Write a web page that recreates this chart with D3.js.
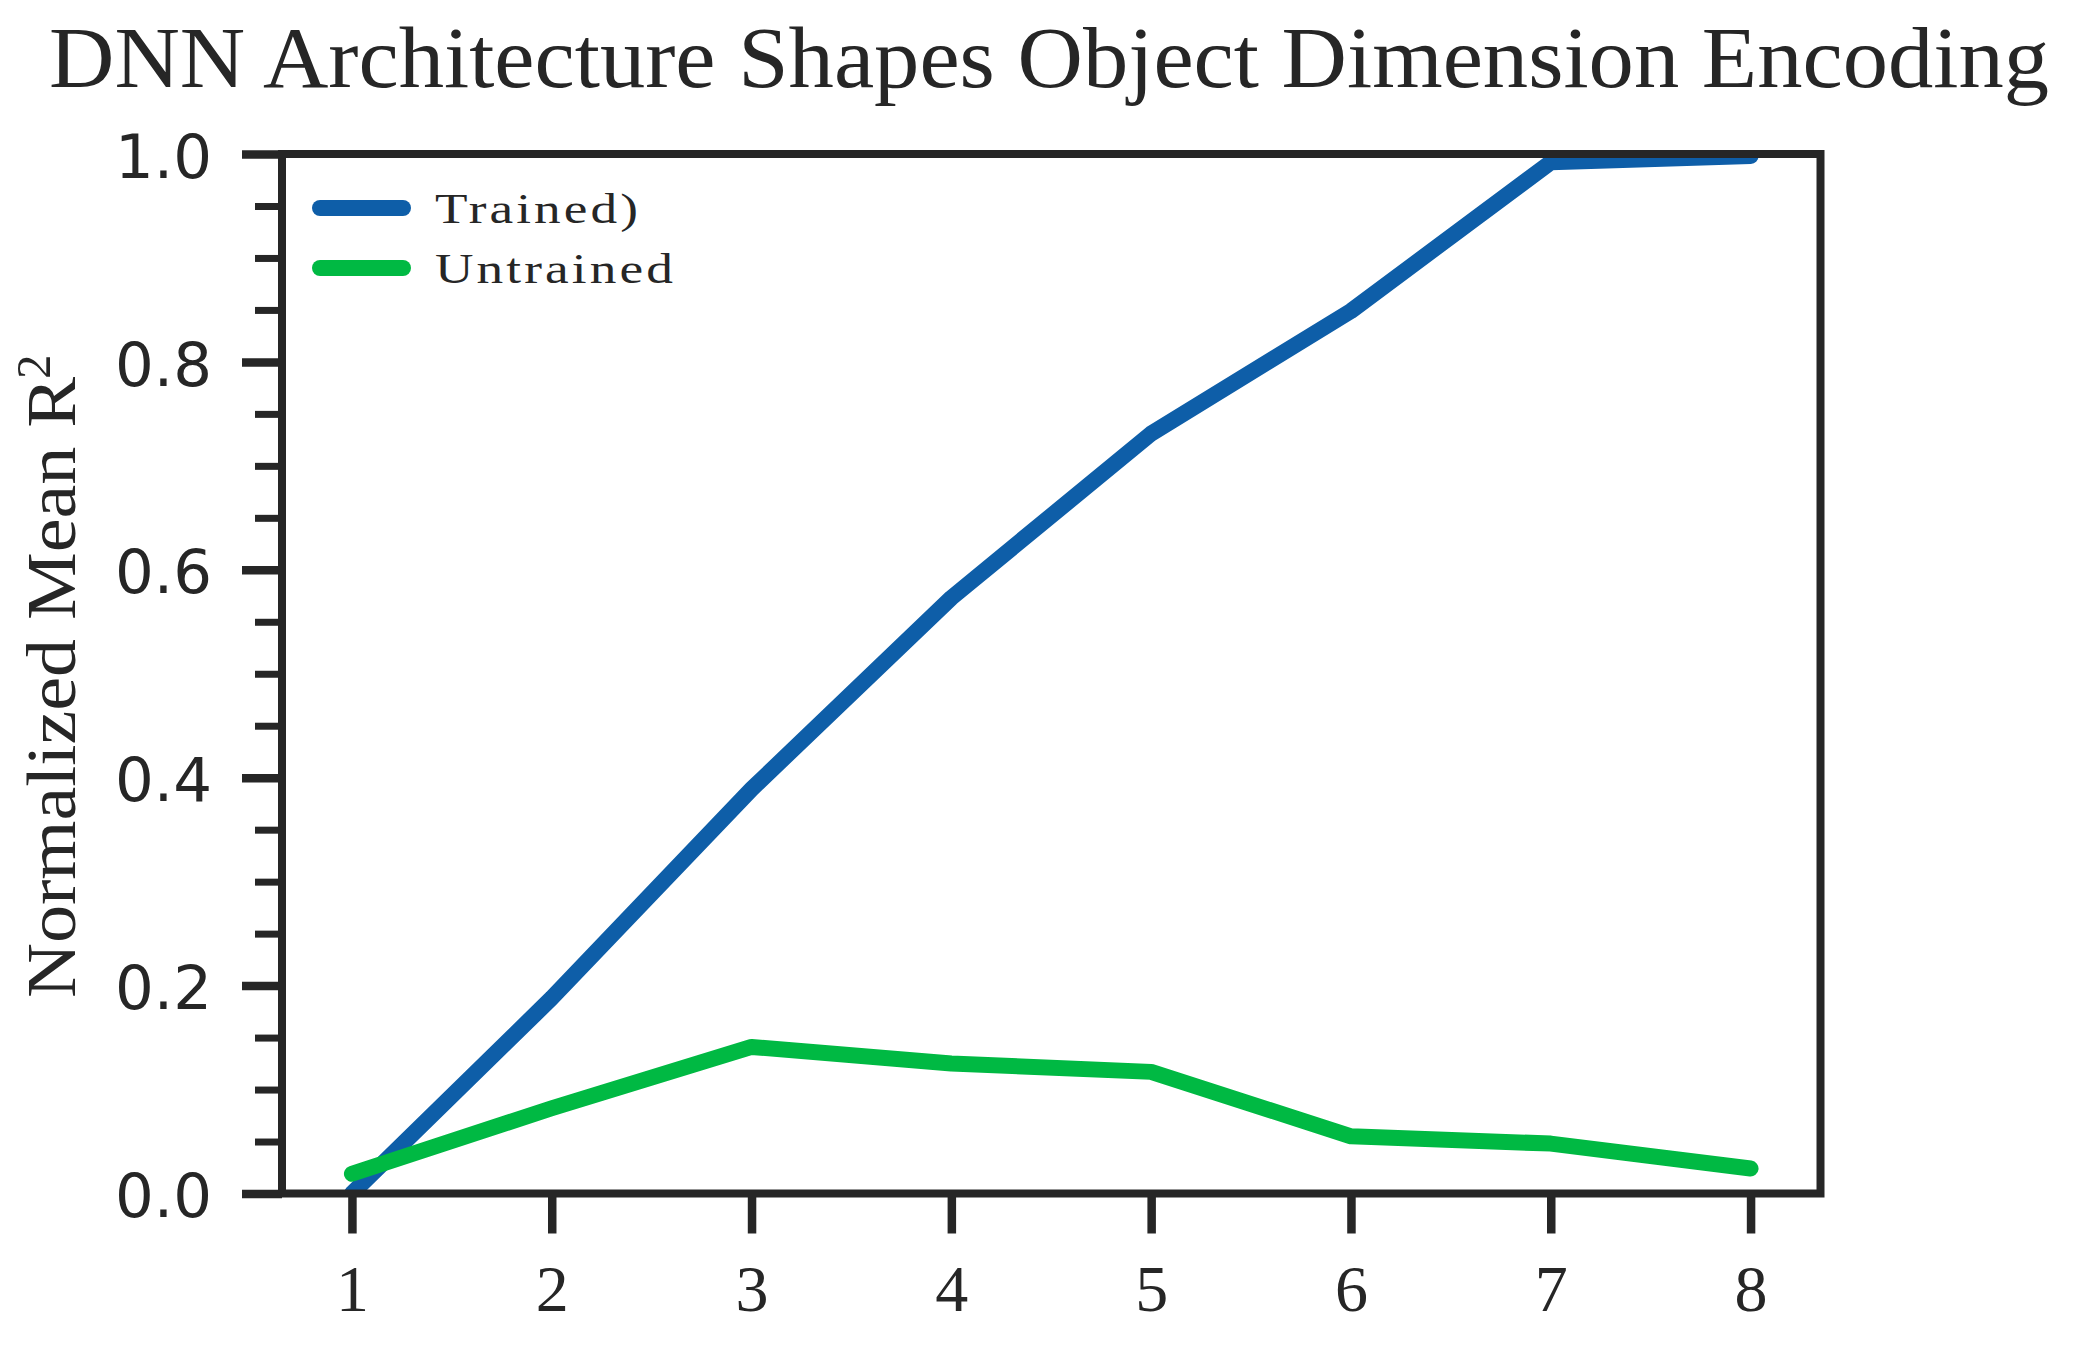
<!DOCTYPE html>
<html>
<head>
<meta charset="utf-8">
<script src="https://cdn.jsdelivr.net/npm/d3@7"></script>
<style>
  html, body { margin: 0; padding: 0; background: #ffffff; }
  svg { display: block; }
</style>
</head>
<body>
<svg id="chart" width="2081" height="1352"></svg>
<script>
// ---- data ----
const layers = [1, 2, 3, 4, 5, 6, 7, 8];
const trained = [0.0, 0.188, 0.389, 0.573, 0.731, 0.849, 0.992, 0.998];
const untrained = [0.019, 0.082, 0.141, 0.125, 0.117, 0.055, 0.048, 0.024];
const seriesNames = ["Trained)", "Untrained"];
const yMajorTicks = [0.0, 0.2, 0.4, 0.6, 0.8, 1.0];
const yTickLabels = ["0.0", "0.2", "0.4", "0.6", "0.8", "1.0"];
const yMinorTicks = [0.05, 0.1, 0.15, 0.25, 0.3, 0.35, 0.45, 0.5, 0.55, 0.65, 0.7, 0.75, 0.85, 0.9, 0.95];
const xTickLabels = ["1", "2", "3", "4", "5", "6", "7", "8"];
const titleText = "DNN Architecture Shapes Object Dimension Encoding";
const yLabelText = "Normalized Mean R";
const yLabelSup = "2";

// ---- layout ----
const INK = "#262626";
const colors = ["#0e5ea8", "#00b943"];
const L = 282, R = 1820.5, T = 154, B = 1193.5;
const serif = "'Liberation Serif', 'Times New Roman', serif";
const sans = "'DejaVu Sans', sans-serif";

const svg = d3.select("#chart");
const x = d3.scaleLinear().domain([0.65, 8.35]).range([L, R]);
const y = d3.scaleLinear().domain([0, 1]).range([B, T]);

// clip
svg.append("defs").append("clipPath").attr("id", "plotclip")
  .append("rect").attr("x", L).attr("y", T).attr("width", R - L).attr("height", B - T);

// lines
const line = d3.line().x((d, i) => x(layers[i])).y(d => y(d));
const g = svg.append("g").attr("clip-path", "url(#plotclip)");
[trained, untrained].forEach((s, k) => {
  g.append("path").datum(s)
    .attr("d", line)
    .attr("fill", "none")
    .attr("stroke", colors[k])
    .attr("stroke-width", 16)
    .attr("stroke-linecap", "round")
    .attr("stroke-linejoin", "round");
});

// y axis major
const yAxis = d3.axisLeft(y).tickValues(yMajorTicks).tickSize(40).tickPadding(30)
  .tickFormat((d, i) => yTickLabels[i]);
const gy = svg.append("g").attr("transform", `translate(${L},0)`).call(yAxis);
gy.select(".domain").remove();
gy.selectAll(".tick line").attr("stroke", INK).attr("stroke-width", 8.5);
gy.selectAll(".tick text").attr("fill", INK).attr("font-family", sans).attr("font-size", 61)
  .attr("dy", "0.38em");

// y axis minor
const yMinorAxis = d3.axisLeft(y).tickValues(yMinorTicks).tickSize(27).tickFormat("");
const gym = svg.append("g").attr("transform", `translate(${L},0)`).call(yMinorAxis);
gym.select(".domain").remove();
gym.selectAll(".tick line").attr("stroke", INK).attr("stroke-width", 7);

// x axis
const xAxis = d3.axisBottom(x).tickValues(layers).tickSize(40).tickPadding(0)
  .tickFormat((d, i) => xTickLabels[i]);
const gx = svg.append("g").attr("transform", `translate(0,${B})`).call(xAxis);
gx.select(".domain").remove();
gx.selectAll(".tick line").attr("stroke", INK).attr("stroke-width", 8.5);
gx.selectAll(".tick text").attr("fill", INK).attr("font-family", serif).attr("font-size", 66)
  .attr("y", 117.5).attr("dy", 0);

// spines
svg.append("rect").attr("x", L).attr("y", T).attr("width", R - L).attr("height", B - T)
  .attr("fill", "none").attr("stroke", INK).attr("stroke-width", 8);

// title
svg.append("text").attr("x", 49).attr("y", 87)
  .attr("font-family", serif).attr("font-size", 87).attr("fill", INK)
  .attr("textLength", 2000).attr("lengthAdjust", "spacingAndGlyphs")
  .text(titleText);

// y label
const yl = svg.append("g").attr("transform", "translate(75,998) rotate(-90)");
yl.append("text").attr("x", 0).attr("y", 0)
  .attr("font-family", serif).attr("font-size", 69).attr("fill", INK)
  .attr("textLength", 621).attr("lengthAdjust", "spacingAndGlyphs")
  .text(yLabelText);
yl.append("text").attr("x", 619).attr("y", -25)
  .attr("font-family", serif).attr("font-size", 49).attr("fill", INK)
  .text(yLabelSup);

// legend
const legendY = [208, 268];
const legendBaseline = [223, 283];
const legendLen = [206, 241];
seriesNames.forEach((name, k) => {
  svg.append("line").attr("x1", 320).attr("x2", 403)
    .attr("y1", legendY[k]).attr("y2", legendY[k])
    .attr("stroke", colors[k]).attr("stroke-width", 16).attr("stroke-linecap", "round");
  svg.append("text").attr("x", 435).attr("y", legendBaseline[k])
    .attr("font-family", serif).attr("font-size", 43).attr("fill", INK)
    .attr("letter-spacing", 2.5)
    .attr("textLength", legendLen[k]).attr("lengthAdjust", "spacingAndGlyphs")
    .text(name);
});
</script>
</body>
</html>
